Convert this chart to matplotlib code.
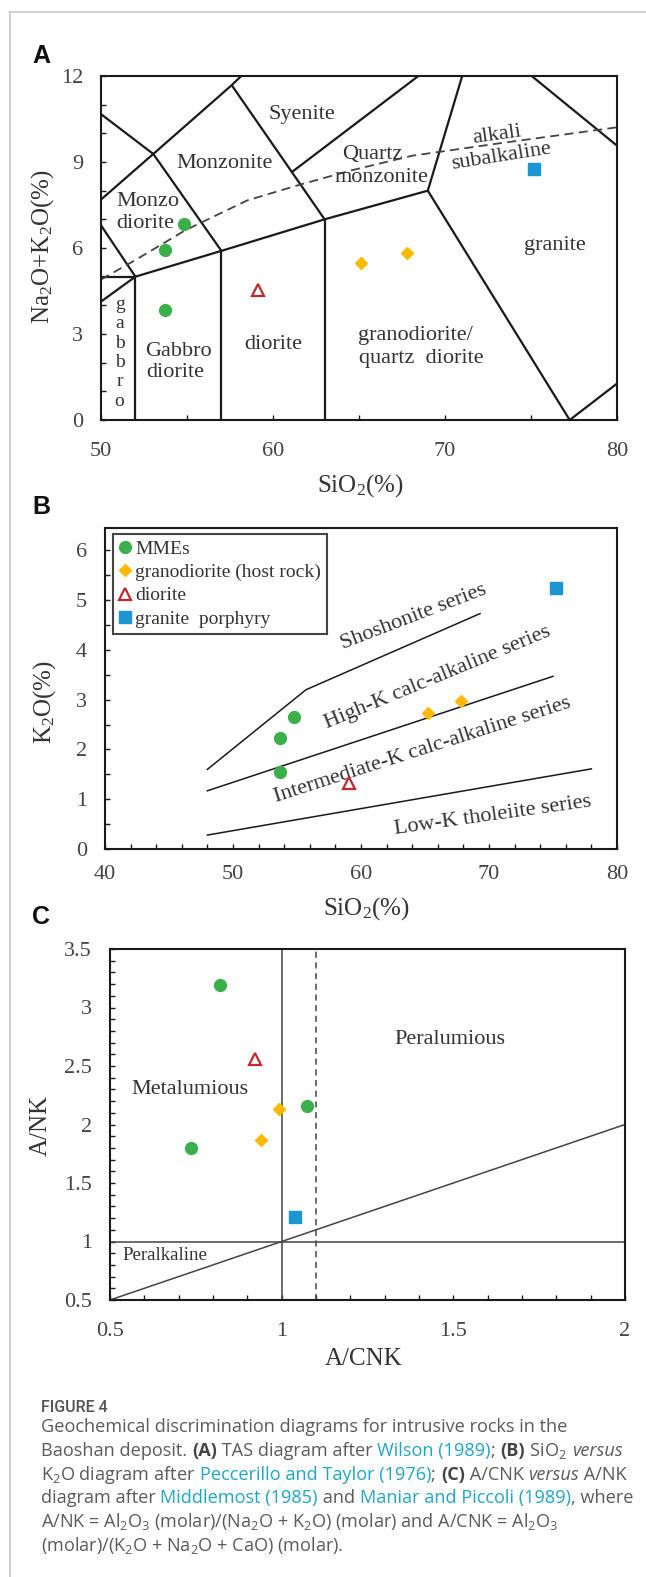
import matplotlib
matplotlib.use("Agg")
import matplotlib.pyplot as plt
from matplotlib.lines import Line2D
from matplotlib.ticker import MultipleLocator

plt.rcParams["font.family"] = ["Liberation Serif", "DejaVu Serif"]
plt.rcParams["mathtext.default"] = "regular"

W, H = 646, 1577

GREEN = "#3bb04a"
ORANGE = "#fbb900"
RED = "#c1272d"
BLUE = "#1e95d3"
TXT = "#333333"
TICK = "#444444"

# ---------------- panel A: TAS ----------------
tas_mme_x = [54.8, 53.7, 53.7]
tas_mme_y = [6.83, 5.93, 3.82]
tas_gd_x = [65.1, 67.8]
tas_gd_y = [5.46, 5.83]
tas_dio_x = [59.1]
tas_dio_y = [4.54]
tas_gp_x = [75.2]
tas_gp_y = [8.74]

tas_fields = [
    ([52, 52], [0, 5]),
    ([50, 52], [5, 5]),
    ([50, 52, 50], [4.13, 5, 6.79]),
    ([52, 57, 63, 69], [5, 5.9, 7.0, 8.0]),
    ([57, 57], [0, 5.9]),
    ([63, 63], [0, 7.0]),
    ([69, 77.25, 80], [8.0, 0, 1.27]),
    ([69, 71], [8.0, 12]),
    ([50, 53.04, 57], [10.67, 9.28, 5.9]),
    ([50, 53.04, 57.6, 58.15], [7.69, 9.28, 11.68, 12]),
    ([57.6, 63], [11.68, 7.0]),
    ([61.1, 68.45], [8.65, 12]),
    ([75.04, 80], [12, 9.57]),
]
alk_x = [50, 52, 54.9, 58.5, 61.4, 64.5, 68.1, 72.9, 80]
alk_y = [4.9, 5.58, 6.62, 7.66, 8.18, 8.7, 9.22, 9.63, 10.21]

tas_names = [
    ("Syenite", 61.7, 10.67, 0),
    ("Monzonite", 57.2, 8.94, 0),
    ("Quartz", 65.8, 9.25, 0),
    ("monzonite", 66.3, 8.47, 0),
    ("Monzo", 52.7, 7.63, 0),
    ("diorite", 52.6, 6.87, 0),
    ("granite", 76.4, 6.1, 0),
    ("Gabbro", 54.5, 2.4, 0),
    ("diorite", 54.3, 1.64, 0),
    ("diorite", 60.0, 2.63, 0),
    ("granodiorite/", 68.3, 2.94, 0),
    ("quartz  diorite", 68.6, 2.13, 0),
    ("alkali", 73.0, 9.95, 8),
    ("subalkaline", 73.3, 9.2, 9),
]
gabbro_letters = list("gabbro")
gabbro_y = [4.02, 3.35, 2.68, 2.0, 1.33, 0.66]

# ---------------- panel B: SiO2 vs K2O ----------------
k_mme_x = [54.8, 53.7, 53.7]
k_mme_y = [2.65, 2.23, 1.55]
k_gd_x = [65.2, 67.8]
k_gd_y = [2.74, 2.98]
k_dio_x = [59.1]
k_dio_y = [1.32]
k_gp_x = [75.2]
k_gp_y = [5.25]

k_sho_x, k_sho_y = [48, 55.7, 69.3], [1.6, 3.2, 4.73]
k_hk_x, k_hk_y = [48, 75], [1.17, 3.47]
k_lk_x, k_lk_y = [48, 78], [0.28, 1.61]

k_names = [
    ("Shoshonite series", 64.1, 4.66, 21),
    ("High-K calc-alkaline series", 66.0, 3.45, 22.5),
    ("Intermediate-K calc-alkaline series", 64.8, 1.98, 17.8),
    ("Low-K tholeiite series", 70.3, 0.67, 8),
]
legend_labels = ["MMEs", "granodiorite (host rock)", "diorite", "granite  porphyry"]

# ---------------- panel C: A/CNK vs A/NK ----------------
c_mme_x = [0.82, 1.075, 0.735]
c_mme_y = [3.19, 2.16, 1.80]
c_gd_x = [0.993, 0.939]
c_gd_y = [2.13, 1.87]
c_dio_x = [0.923]
c_dio_y = [2.56]
c_gp_x = [1.038]
c_gp_y = [1.21]


def px_axes(l, t, r, b):
    return fig.add_axes([l / W, 1 - b / H, (r - l) / W, (b - t) / H])


def style_axes(ax, xpad, ypad):
    for s in ax.spines.values():
        s.set_linewidth(1.5)
        s.set_color("#1a1a1a")
    ax.tick_params(which="both", direction="in", length=3.6, width=1.0,
                   colors="#1a1a1a", labelcolor=TICK, labelsize=16)
    ax.tick_params(axis="x", which="both", pad=xpad, top=False)
    ax.tick_params(axis="y", which="both", pad=ypad, right=False)


def samples(ax, mx, my, gx, gy, dx, dy, bx, by):
    ax.plot(mx, my, "o", color=GREEN, ms=8.5, ls="none", zorder=5)
    ax.plot(gx, gy, "D", color=ORANGE, ms=6.5, ls="none", zorder=5)
    ax.plot(dx, dy, "^", mfc="white", mec=RED, mew=1.6, ms=8.5, ls="none", zorder=5)
    ax.plot(bx, by, "s", color=BLUE, ms=8, ls="none", zorder=5)


fig = plt.figure(figsize=(W / 100, H / 100), dpi=100)

# border of the page frame
fig.add_artist(Line2D([10 / W, 10 / W], [0, 1 - 12 / H], color="#c8c8c8", lw=1.2))
fig.add_artist(Line2D([10 / W, 1], [1 - 12 / H, 1 - 12 / H], color="#c8c8c8", lw=1.2))

# ---- A
axA = px_axes(101, 76, 617, 420)
axA.set_xlim(50, 80)
axA.set_ylim(0, 12)
axA.xaxis.set_major_locator(MultipleLocator(10))
axA.xaxis.set_minor_locator(MultipleLocator(5))
axA.yaxis.set_major_locator(MultipleLocator(3))
axA.yaxis.set_minor_locator(MultipleLocator(1))
style_axes(axA, 16, 13)
for fx, fy in tas_fields:
    axA.plot(fx, fy, color="#1a1a1a", lw=1.6, solid_capstyle="round")
axA.plot(alk_x, alk_y, color="#444444", lw=1.3, ls=(0, (5, 3)))
for name, x, y, rot in tas_names:
    axA.text(x, y, name, ha="center", va="center", fontsize=16, color=TXT, rotation=rot)
for ch, y in zip(gabbro_letters, gabbro_y):
    axA.text(51.08, y, ch, ha="center", va="center", fontsize=14, color=TXT)
samples(axA, tas_mme_x, tas_mme_y, tas_gd_x, tas_gd_y, tas_dio_x, tas_dio_y, tas_gp_x, tas_gp_y)

# ---- B
axB = px_axes(105, 528, 617, 849)
axB.set_xlim(40, 80)
axB.set_ylim(0, 6.45)
axB.xaxis.set_major_locator(MultipleLocator(10))
axB.xaxis.set_minor_locator(MultipleLocator(2))
axB.yaxis.set_major_locator(MultipleLocator(1))
axB.yaxis.set_minor_locator(MultipleLocator(0.5))
style_axes(axB, 11.5, 13)
for lx, ly in [(k_sho_x, k_sho_y), (k_hk_x, k_hk_y), (k_lk_x, k_lk_y)]:
    axB.plot(lx, ly, color="#1a1a1a", lw=1.1)
for name, x, y, rot in k_names:
    axB.text(x, y, name, ha="center", va="center", fontsize=16, color=TXT,
             rotation=rot, rotation_mode="anchor")
samples(axB, k_mme_x, k_mme_y, k_gd_x, k_gd_y, k_dio_x, k_dio_y, k_gp_x, k_gp_y)
handles = [
    Line2D([], [], marker="o", color=GREEN, ls="none", ms=8.5),
    Line2D([], [], marker="D", color=ORANGE, ls="none", ms=6.5),
    Line2D([], [], marker="^", mfc="white", mec=RED, mew=1.6, ls="none", ms=8.5),
    Line2D([], [], marker="s", color=BLUE, ls="none", ms=8),
]
leg = axB.legend(handles, legend_labels, loc="upper left", bbox_to_anchor=(0.015, 0.981),
                 borderaxespad=0, fancybox=False, edgecolor="#444444", framealpha=1,
                 handlelength=0.7, handletextpad=0.15, labelspacing=0.3, borderpad=0.3,
                 fontsize=14, labelcolor=TXT)
leg.get_frame().set_linewidth(1.5)

# ---- C
axC = px_axes(110, 949, 625, 1300)
axC.set_xlim(0.5, 2)
axC.set_ylim(0.5, 3.5)
axC.xaxis.set_major_locator(MultipleLocator(0.5))
axC.xaxis.set_minor_locator(MultipleLocator(0.1))
axC.yaxis.set_major_locator(MultipleLocator(0.5))
axC.yaxis.set_minor_locator(MultipleLocator(0.1))
axC.xaxis.set_major_formatter(lambda v, p: f"{v:g}")
axC.yaxis.set_major_formatter(lambda v, p: f"{v:g}")
style_axes(axC, 15.5, 13)
axC.axvline(1.0, color="#444444", lw=1.1)
axC.axvline(1.1, color="#444444", lw=1.1, ls=(0, (4, 3)))
axC.axhline(1.0, color="#444444", lw=1.1)
axC.plot([0.5, 2], [0.5, 2], color="#444444", lw=1.1)
axC.text(1.49, 2.73, "Peralumious", ha="center", va="center", fontsize=16, color=TXT)
axC.text(0.733, 2.3, "Metalumious", ha="center", va="center", fontsize=16, color=TXT)
axC.text(0.66, 0.877, "Peralkaline", ha="center", va="center", fontsize=13.5, color=TXT)
samples(axC, c_mme_x, c_mme_y, c_gd_x, c_gd_y, c_dio_x, c_dio_y, c_gp_x, c_gp_y)


def ftext(x, y, s, **kw):
    return fig.text(x / W, 1 - y / H, s, **kw)


# axis titles
ftext(43, 247, "Na$_2$O+K$_2$O(%)", rotation=90, ha="center", va="center", fontsize=18, color=TXT)
ftext(360, 486, "SiO$_2$(%)", ha="center", va="center", fontsize=18, color=TXT)
ftext(45, 702, "K$_2$O(%)", rotation=90, ha="center", va="center", fontsize=18, color=TXT)
ftext(366, 909, "SiO$_2$(%)", ha="center", va="center", fontsize=18, color=TXT)
ftext(41, 1125, "A/NK", rotation=90, ha="center", va="center", fontsize=18, color=TXT)
ftext(364, 1359, "A/CNK", ha="center", va="center", fontsize=18, color=TXT)

for letter, y in [("A", 56), ("B", 507), ("C", 917)]:
    ftext(32, y, letter, ha="left", va="center", fontsize=18, fontweight="bold",
          family="Liberation Sans", color="#111111")

# ---------------- caption ----------------
CAP_FONT = ["Open Sans", "DejaVu Sans"]
CAP_SIZE = 13.1
STYLES = {
    "n": dict(color="#5a5a5a"),
    "b": dict(color="#444444", fontweight="bold"),
    "i": dict(color="#5a5a5a", fontstyle="italic"),
    "l": dict(color="#1ea6c6"),
}
renderer = fig.canvas.get_renderer()


def text_width(s, kw):
    t = fig.text(0, 0, s, family=CAP_FONT, fontsize=CAP_SIZE, **kw)
    w = t.get_window_extent(renderer).width
    t.remove()
    return w


def caption_line(y, runs):
    x = 41
    for s, kind in runs:
        kw = STYLES[kind]
        ftext(x, y, s, ha="left", va="baseline", family=CAP_FONT, fontsize=CAP_SIZE, **kw)
        x += text_width("x" + s + "x", kw) - text_width("xx", kw)


ftext(41, 1412, "FIGURE 4", ha="left", va="baseline", family=["Roboto", "DejaVu Sans"],
      fontsize=11.5, fontweight="medium", color="#555555")
caption = [
    [("Geochemical discrimination diagrams for intrusive rocks in the", "n")],
    [("Baoshan deposit. ", "n"), ("(A)", "b"), (" TAS diagram after ", "n"),
     ("Wilson (1989)", "l"), ("; ", "n"), ("(B)", "b"), (" SiO$_2$ ", "n"), ("versus", "i")],
    [("K$_2$O diagram after ", "n"), ("Peccerillo and Taylor (1976)", "l"), ("; ", "n"),
     ("(C)", "b"), (" A/CNK ", "n"), ("versus", "i"), (" A/NK", "n")],
    [("diagram after ", "n"), ("Middlemost (1985)", "l"), (" and ", "n"),
     ("Maniar and Piccoli (1989)", "l"), (", where", "n")],
    [("A/NK = Al$_2$O$_3$ (molar)/(Na$_2$O + K$_2$O) (molar) and A/CNK = Al$_2$O$_3$", "n")],
    [("(molar)/(K$_2$O + Na$_2$O + CaO) (molar).", "n")],
]
for i, runs in enumerate(caption):
    caption_line(1432 + i * 23.8, runs)

fig.savefig("out.png", dpi=100)
